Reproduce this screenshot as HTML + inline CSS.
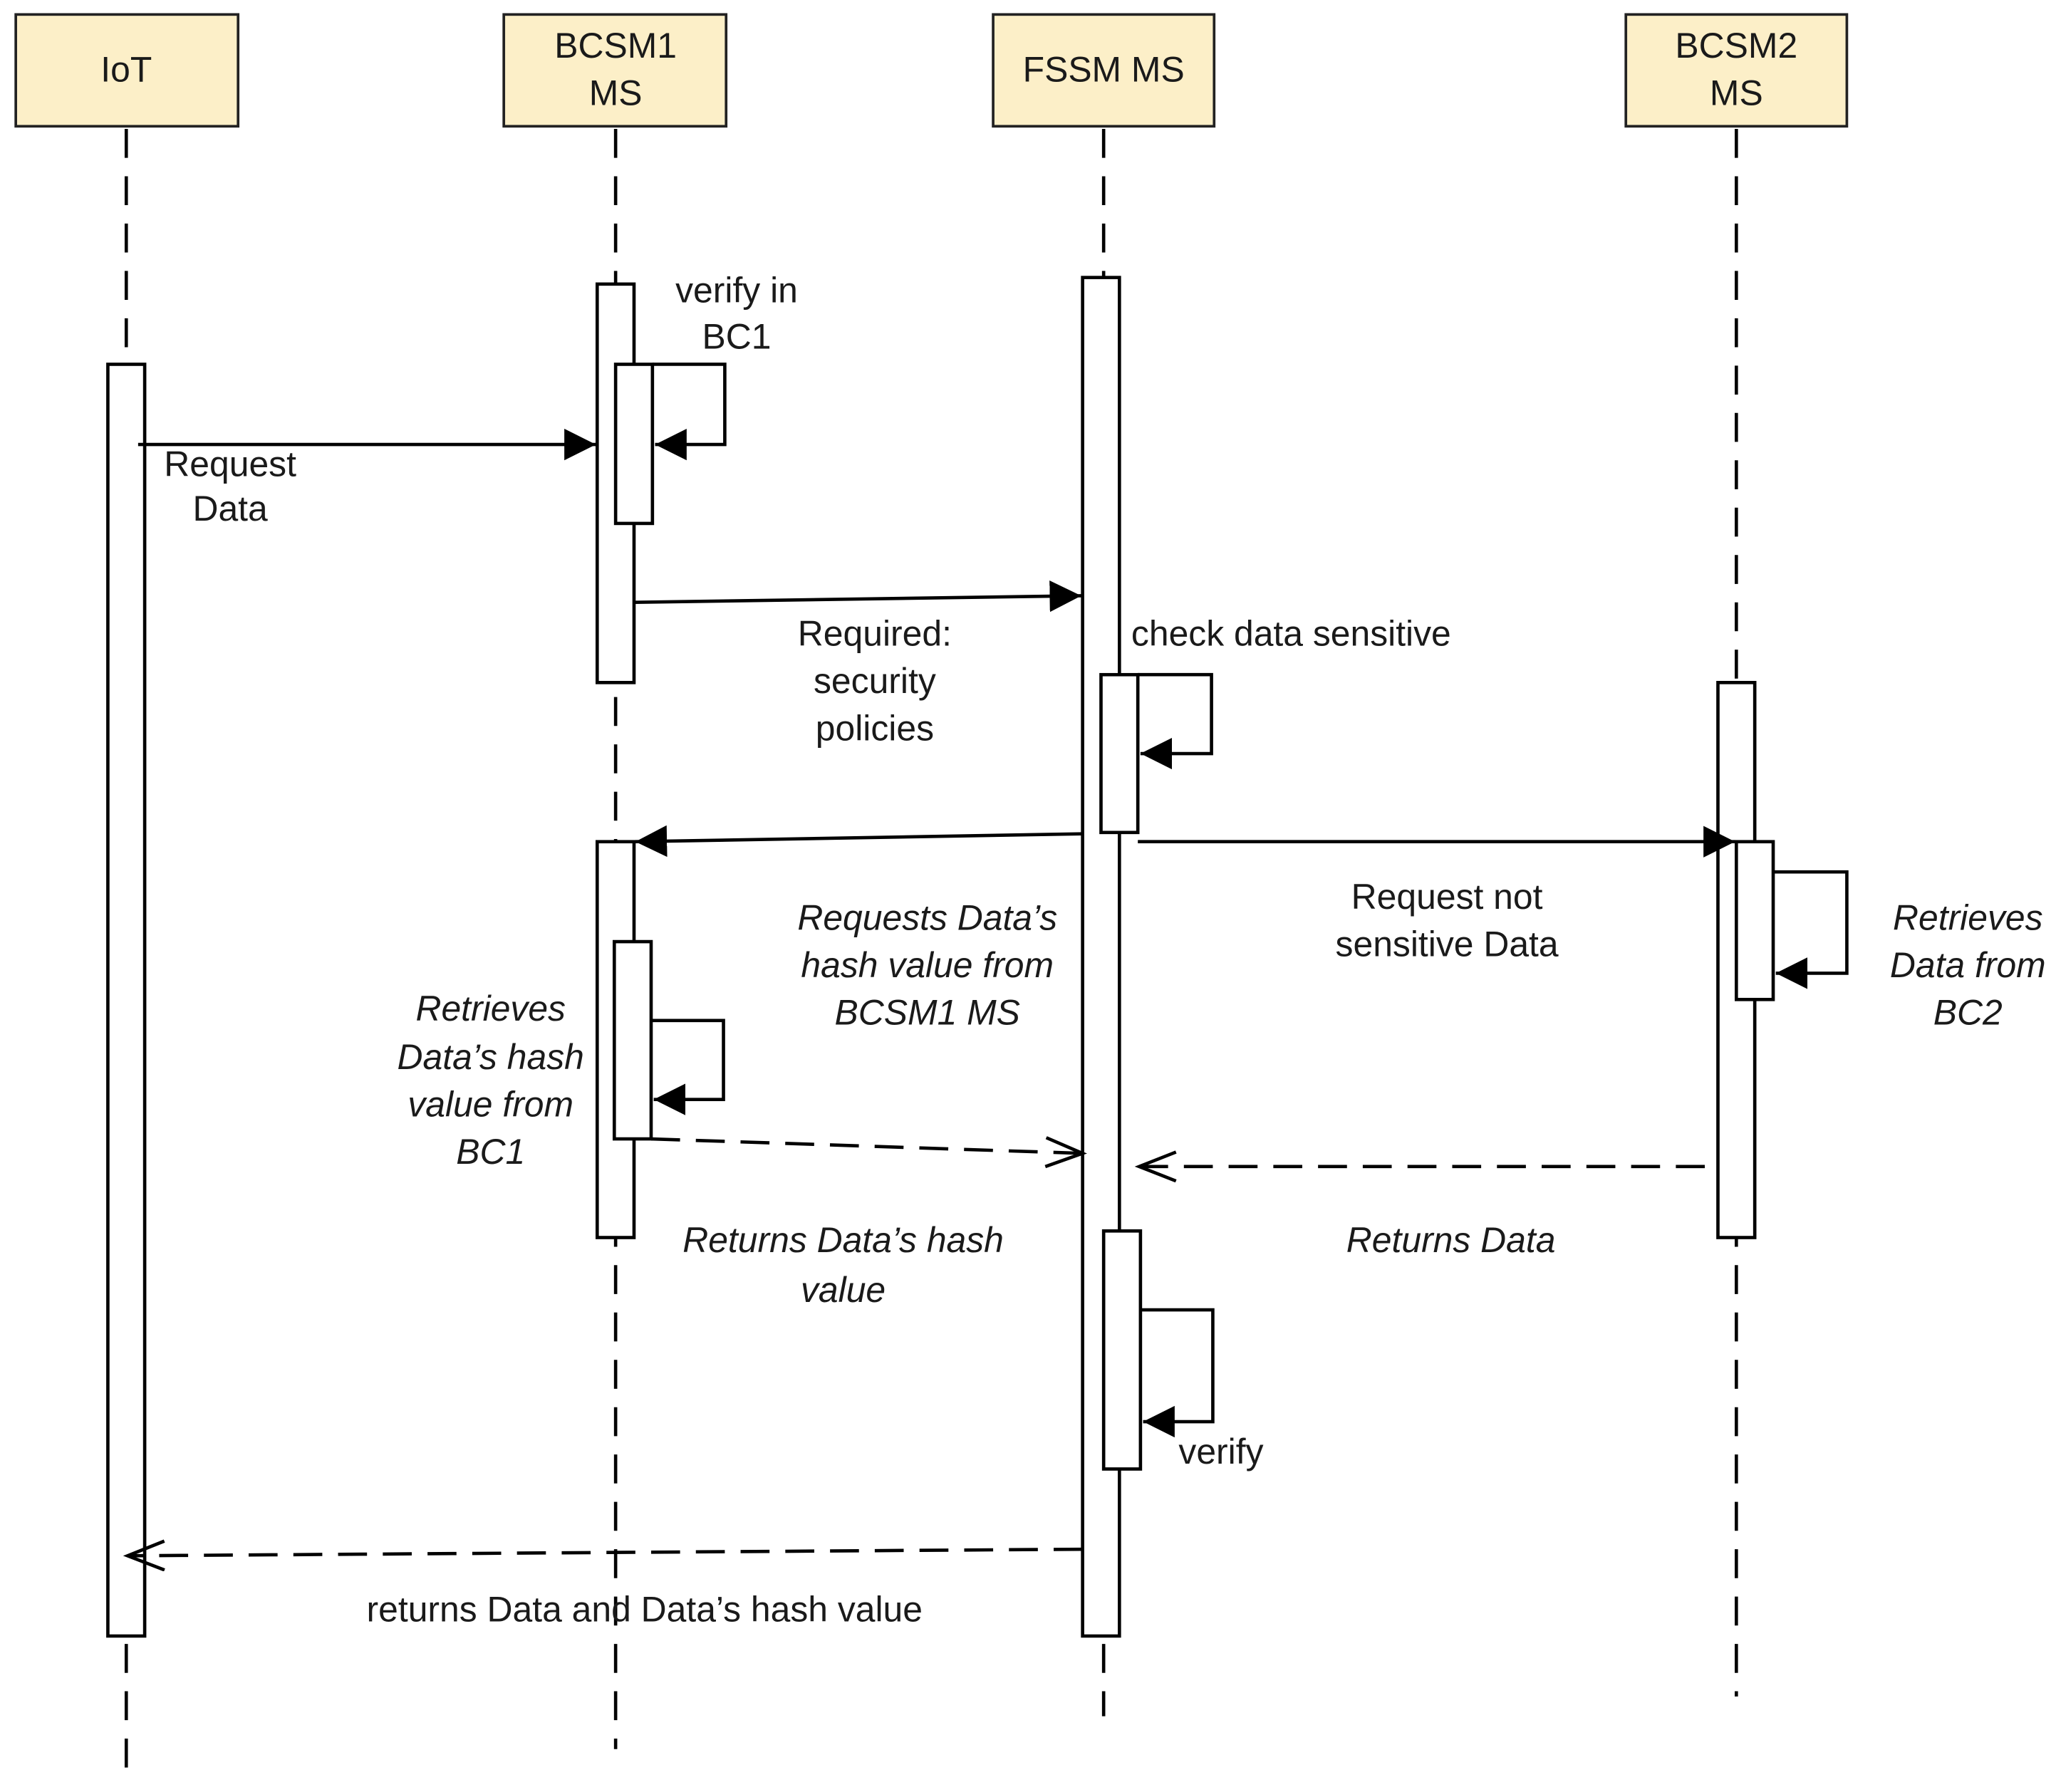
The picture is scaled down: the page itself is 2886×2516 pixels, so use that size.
<!DOCTYPE html>
<html><head><meta charset="utf-8"><style>
html,body{margin:0;padding:0;background:#fff;}
svg{display:block;}
text{font-family:"Liberation Sans",Arial,sans-serif;font-size:27px;fill:#1a1a1a;}
.i{font-style:italic;}
</style></head><body>
<svg width="2886" height="2516" viewBox="0 0 1563 1362.6" xmlns="http://www.w3.org/2000/svg">
<defs>
<marker id="fa" markerWidth="26" markerHeight="26" refX="24" refY="12" orient="auto" markerUnits="userSpaceOnUse">
<path d="M0,0 L24,12 L0,24 Z" fill="#000"/></marker>
<marker id="oa" markerWidth="34" markerHeight="30" refX="30" refY="12" orient="auto" markerUnits="userSpaceOnUse">
<path d="M2,1 L30,12 L2,23" fill="none" stroke="#000" stroke-width="2.5"/></marker>
</defs>
<g stroke="#222" stroke-width="2" fill="#fcefc8">
<rect x="12" y="11" width="169" height="85"/>
<rect x="383" y="11" width="169" height="85"/>
<rect x="755" y="11" width="168" height="85"/>
<rect x="1236" y="11" width="168" height="85"/>
</g>
<g text-anchor="middle">
<text x="96" y="62">IoT</text>
<text x="468" y="44">BCSM1</text><text x="468" y="80">MS</text>
<text x="839" y="62">FSSM MS</text>
<text x="1320" y="44">BCSM2</text><text x="1320" y="80">MS</text>
</g>
<g stroke="#000" stroke-width="2.5" stroke-dasharray="22,14" fill="none">
<line x1="96" y1="98" x2="96" y2="1350"/>
<line x1="468" y1="98" x2="468" y2="1330"/>
<line x1="839" y1="98" x2="839" y2="1305"/>
<line x1="1320" y1="98" x2="1320" y2="1290"/>
</g>
<g stroke="#000" stroke-width="2.5" fill="#fff">
<rect x="82" y="277" width="28" height="967"/>
<rect x="454" y="216" width="28" height="303"/>
<rect x="468" y="277" width="28" height="121"/>
<rect x="454" y="640" width="28" height="301"/>
<rect x="467" y="716" width="28" height="150"/>
<rect x="823" y="211" width="28" height="1033"/>
<rect x="837" y="513" width="28" height="120"/>
<rect x="839" y="936" width="28" height="181"/>
<rect x="1306" y="519" width="28" height="422"/>
<rect x="1320" y="640" width="28" height="120"/>
</g>
<g stroke="#000" stroke-width="2.5" fill="none">
<polyline points="496,277 551,277 551,338 498,338" marker-end="url(#fa)"/>
<polyline points="495,776 550,776 550,836 497,836" marker-end="url(#fa)"/>
<polyline points="865,513 921,513 921,573 867,573" marker-end="url(#fa)"/>
<polyline points="867,996 922,996 922,1081 869,1081" marker-end="url(#fa)"/>
<polyline points="1348,663 1404,663 1404,740 1350,740" marker-end="url(#fa)"/>
<line x1="105" y1="338" x2="453" y2="338" marker-end="url(#fa)"/>
<line x1="482" y1="458" x2="822" y2="453" marker-end="url(#fa)"/>
<line x1="823" y1="634" x2="483" y2="640" marker-end="url(#fa)"/>
<line x1="865" y1="640" x2="1319" y2="640" marker-end="url(#fa)"/>
<g stroke-dasharray="22,12">
<line x1="495" y1="866" x2="823" y2="877" marker-end="url(#oa)"/>
<line x1="1296" y1="887" x2="866" y2="887" marker-end="url(#oa)"/>
<line x1="823" y1="1178" x2="97" y2="1183" marker-end="url(#oa)"/>
</g>
</g>
<g text-anchor="middle">
<text x="175" y="362">Request</text><text x="175" y="396">Data</text>
<text x="560" y="230">verify in</text><text x="560" y="265">BC1</text>
<text x="665" y="491">Required:</text><text x="665" y="527">security</text><text x="665" y="563">policies</text>
<text x="1100" y="691">Request not</text><text x="1100" y="727">sensitive Data</text>
<text x="490" y="1233">returns Data and Data’s hash value</text>
<text class="i" x="705" y="707">Requests Data’s</text><text class="i" x="705" y="743">hash value from</text><text class="i" x="705" y="779">BCSM1 MS</text>
<text class="i" x="373" y="776">Retrieves</text><text class="i" x="373" y="813">Data’s hash</text><text class="i" x="373" y="849">value from</text><text class="i" x="373" y="885">BC1</text>
<text class="i" x="1496" y="707">Retrieves</text><text class="i" x="1496" y="743">Data from</text><text class="i" x="1496" y="779">BC2</text>
<text class="i" x="641" y="952">Returns Data’s hash</text><text class="i" x="641" y="990">value</text>
<text class="i" x="1103" y="952">Returns Data</text>
</g>
<text x="860" y="491">check data sensitive</text>
<text x="896" y="1113">verify</text>
</svg>
</body></html>
